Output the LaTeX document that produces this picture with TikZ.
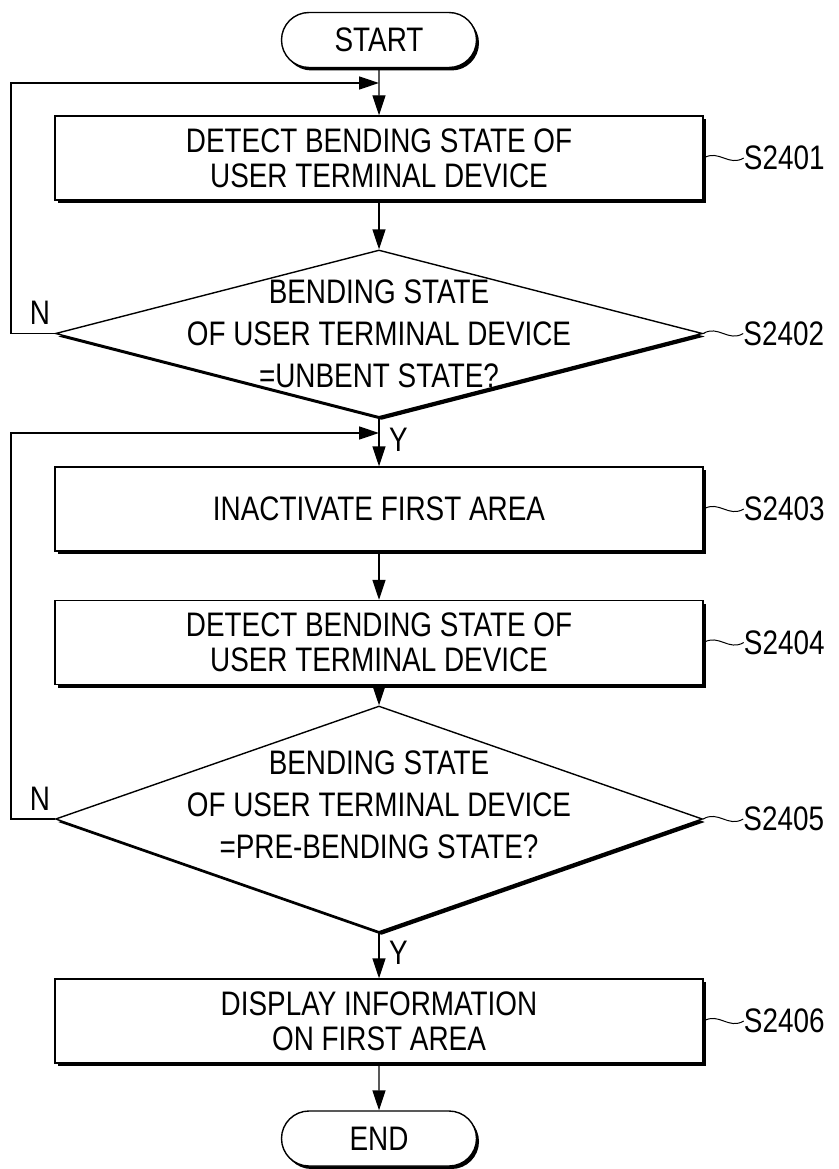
\documentclass[tikz,border=0pt]{standalone}
\usepackage{fontspec}
\setmainfont{Liberation Sans}[FakeStretch=0.82]
\usetikzlibrary{positioning,shapes.geometric,shapes.misc,arrows.meta,shadows}

\begin{document}
\begin{tikzpicture}[x=1pt, y=-1pt,
  every node/.style={font=\fontsize{34}{35}\selectfont},
  boxshadow/.style={drop shadow={shadow xshift=2.5pt, shadow yshift=-3pt, fill=black, opacity=1}},
  process/.style={draw, fill=white, line width=1.4pt, boxshadow, minimum width=648pt, minimum height=84pt, align=center, inner sep=0pt},
  decision/.style={diamond, draw, fill=white, line width=1.4pt, boxshadow, minimum width=647pt, minimum height=#1, inner sep=0pt},
  terminal/.style={rounded rectangle, draw, fill=white, line width=1.4pt, boxshadow, minimum width=195pt, minimum height=55pt, inner sep=0pt},
  cond/.style={align=center, font=\fontsize{34}{42}\selectfont},
  steplabel/.style={right=40pt of #1, inner sep=0pt},
  arrow/.style={-{Triangle[length=20pt, width=13pt]}, line width=1.4pt},
  tilde/.style={line width=1pt}
]
  \useasboundingbox (0,0) rectangle (838,1169);

  \node[terminal] (start) at (379,40) {START};
  \node[process] (b1) at (379,158) {DETECT BENDING STATE OF\\USER TERMINAL DEVICE};
  \node[decision=167pt] (d1) at (379,333.5) {};
  \node[cond] (c1) at (d1) {BENDING STATE\\OF USER TERMINAL DEVICE\\=UNBENT STATE?};
  \node[process] (b3) at (379,509) {INACTIVATE FIRST AREA};
  \node[process] (b4) at (379,642.5) {DETECT BENDING STATE OF\\USER TERMINAL DEVICE};
  \node[decision=226pt] (d2) at (379,819) {};
  \node[cond] (c2) at (379,805) {BENDING STATE\\OF USER TERMINAL DEVICE\\=PRE-BENDING STATE?};
  \node[process] (b6) at (379,1021) {DISPLAY INFORMATION\\ON FIRST AREA};
  \node[terminal] (end) at (379,1138.5) {END};

  % step labels
  \node[steplabel=b1] (l1) {S2401};
  \node[steplabel=d1] (l2) {S2402};
  \node[steplabel=b3] (l3) {S2403};
  \node[steplabel=b4] (l4) {S2404};
  \node[steplabel=d2] (l5) {S2405};
  \node[steplabel=b6] (l6) {S2406};
  \draw[tilde] (b1.east) .. controls +(15,-9) and +(-15,9) .. (l1.west);
  \draw[tilde] (d1.east) .. controls +(15,-9) and +(-15,9) .. (l2.west);
  \draw[tilde] (b3.east) .. controls +(15,-9) and +(-15,9) .. (l3.west);
  \draw[tilde] (b4.east) .. controls +(15,-9) and +(-15,9) .. (l4.west);
  \draw[tilde] (d2.east) .. controls +(15,-9) and +(-15,9) .. (l5.west);
  \draw[tilde] (b6.east) .. controls +(15,-9) and +(-15,9) .. (l6.west);

  % branch labels
  \node (n1) at (40,313) {N};
  \node (n2) at (40,799) {N};
  \node[anchor=west, inner sep=0pt] (y1) at (389,440) {Y};
  \node[anchor=west, inner sep=0pt] (y2) at (389,953) {Y};

  \coordinate (j1) at (379,83);
  \coordinate (j2) at (379,433);

  \draw[arrow] (start) -- (b1);
  \draw[arrow] (b1) -- (d1);
  \draw[arrow] (d1.west) -- ++(-44,0) |- (j1);
  \draw[arrow] (d1.south) -- (b3);
  \draw[arrow] (b3) -- (b4);
  \draw[arrow] (b4) -- (d2);
  \draw[arrow] (d2.west) -- ++(-44,0) |- (j2);
  \draw[arrow] (d2.south) -- (b6);
  \draw[arrow] (b6) -- (end);
\end{tikzpicture}
\end{document}
